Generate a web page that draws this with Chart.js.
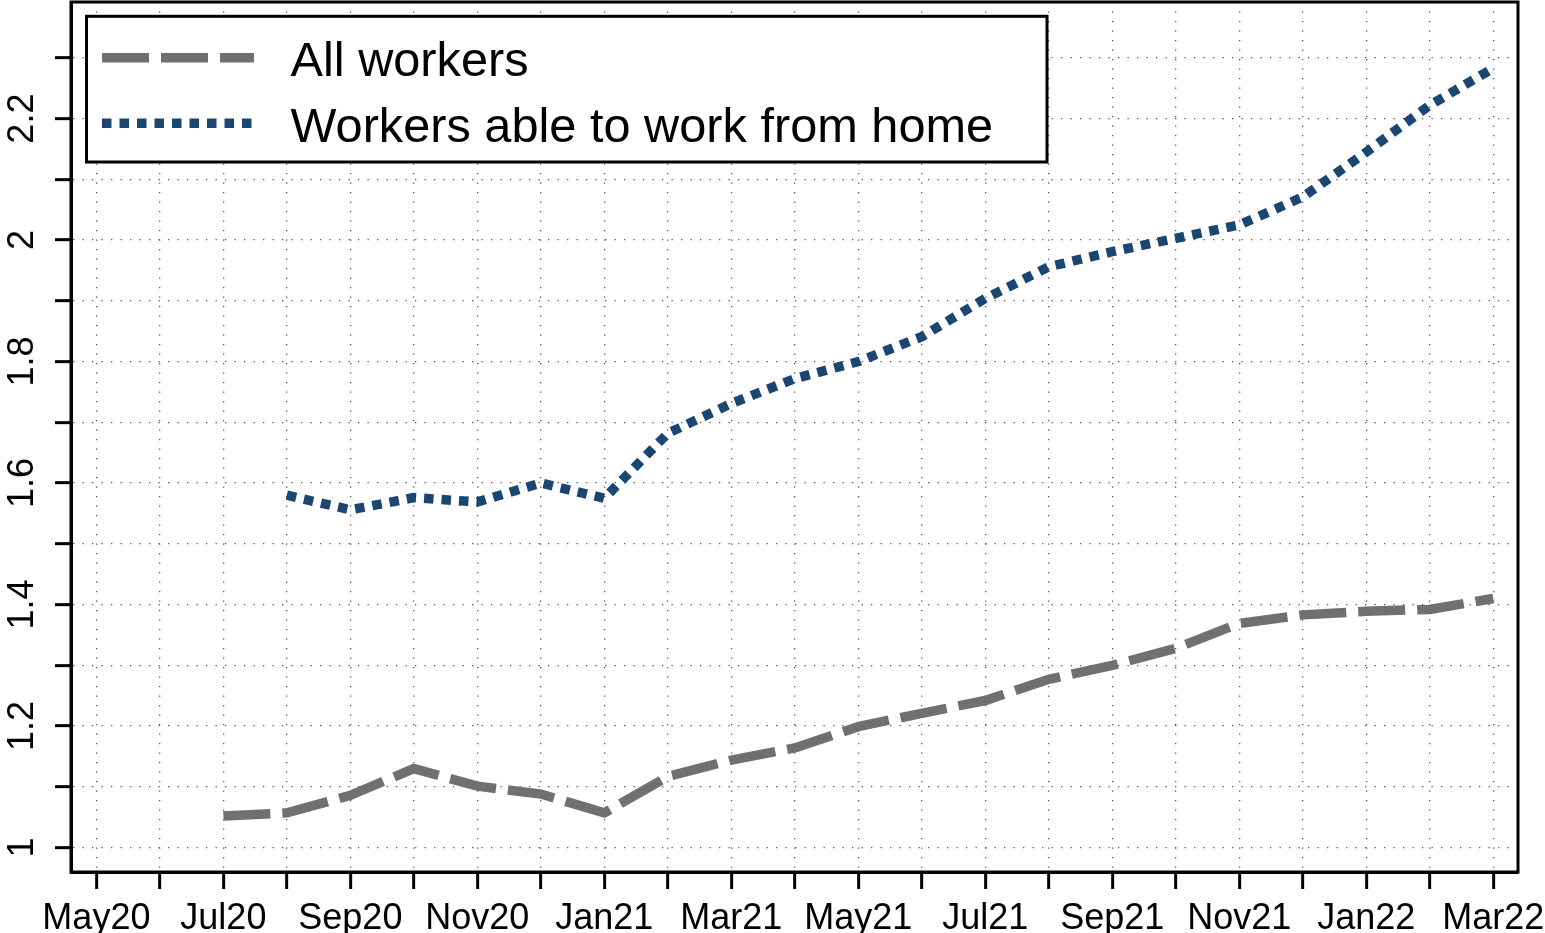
<!DOCTYPE html>
<html>
<head>
<meta charset="utf-8">
<title>All workers vs workers able to work from home</title>
<script src="https://cdn.jsdelivr.net/npm/chart.js@4.4.1/dist/chart.umd.min.js"></script>
<style>
  html, body { margin: 0; padding: 0; background: #fff; }
  #wrap { width: 1545px; height: 933px; position: relative; }
</style>
</head>
<body>
<div id="wrap"><canvas id="trendChart"></canvas></div>
<script>
// Months on the x axis (index 0 = May 2020)
const months = ['May20', 'Jun20', 'Jul20', 'Aug20', 'Sep20', 'Oct20', 'Nov20', 'Dec20',
    'Jan21', 'Feb21', 'Mar21', 'Apr21', 'May21', 'Jun21', 'Jul21', 'Aug21', 'Sep21',
    'Oct21', 'Nov21', 'Dec21', 'Jan22', 'Feb22', 'Mar22'];

// Series values (null = no observation yet)
const allWorkers = [null, null, 1.052, 1.057, 1.086, 1.130, 1.101, 1.088, 1.057, 1.117,
    1.144, 1.164, 1.199, 1.221, 1.242, 1.277, 1.300, 1.328, 1.369, 1.383, 1.389, 1.392, 1.410];
const wfhWorkers = [null, null, null, 1.580, 1.556, 1.576, 1.569, 1.600, 1.575, 1.682,
    1.731, 1.772, 1.800, 1.841, 1.904, 1.956, 1.981, 2.003, 2.025, 2.071, 2.145, 2.222, 2.283];

const seriesLabels = ['All workers', 'Workers able to work from home'];

// Y ticks every 0.1, labelled every 0.2
const yTicks = [1.0, 1.1, 1.2, 1.3, 1.4, 1.5, 1.6, 1.7, 1.8, 1.9, 2.0, 2.1, 2.2, 2.3];
const yTickLabels = ['1', '', '1.2', '', '1.4', '', '1.6', '', '1.8', '', '2', '', '2.2', ''];

document.addEventListener('DOMContentLoaded', () => {
    const colors = {
        gray: '#707070',
        navy: '#1a4771',
        grid: '#555555',
        ink: '#000000'
    };

    Chart.defaults.font.family = "'Liberation Sans', Arial, Helvetica, sans-serif";
    Chart.defaults.color = colors.ink;

    // box around the plot + legend drawn R-style inside the plot
    const frameAndLegend = {
        id: 'frameAndLegend',
        afterDraw(chart) {
            const { ctx, chartArea: a } = chart;
            ctx.save();
            ctx.strokeStyle = colors.ink;
            ctx.lineWidth = 3;
            ctx.strokeRect(a.left, a.top, a.right - a.left, a.bottom - a.top);

            const bx = a.left + 15.5, by = a.top + 14.3, bw = 960.5, bh = 145.7;
            ctx.fillStyle = '#fff';
            ctx.fillRect(bx, by, bw, bh);
            ctx.strokeRect(bx, by, bw, bh);

            ctx.font = "48.7px 'Liberation Sans', Arial, Helvetica, sans-serif";
            ctx.textBaseline = 'alphabetic';
            ctx.textAlign = 'left';
            chart.data.datasets.forEach((ds, i) => {
                const y = by + 41.5 + i * 65.5;
                ctx.beginPath();
                ctx.setLineDash(ds.borderDash);
                ctx.lineCap = 'butt';
                ctx.lineWidth = ds.borderWidth;
                ctx.strokeStyle = ds.borderColor;
                ctx.moveTo(bx + 15.5, y);
                ctx.lineTo(bx + 167.5, y);
                ctx.stroke();
                ctx.setLineDash([]);
                ctx.fillStyle = colors.ink;
                ctx.fillText(ds.label, bx + 204, y + 18.5);
            });
            ctx.restore();
        }
    };

    const gridStyle = (tickLength) => ({
        color: colors.grid,
        lineWidth: 1.3,
        tickLength: tickLength,
        tickColor: colors.ink,
        tickWidth: 3,
        tickBorderDash: []
    });
    const borderStyle = { display: true, color: colors.ink, width: 3, dash: [1.3, 8.2] };

    const ctx = document.getElementById('trendChart');
    new Chart(ctx, {
        type: 'line',
        data: {
            datasets: [{
                label: seriesLabels[0],
                data: months.map((m, i) => ({ x: i, y: allWorkers[i] })),
                borderColor: colors.gray,
                borderWidth: 9.5,
                borderDash: [47, 12],
                borderCapStyle: 'butt',
                pointRadius: 0,
                tension: 0,
                fill: false
            }, {
                label: seriesLabels[1],
                data: months.map((m, i) => ({ x: i, y: wfhWorkers[i] })),
                borderColor: colors.navy,
                borderWidth: 9.5,
                borderDash: [9.5, 8],
                borderCapStyle: 'butt',
                pointRadius: 0,
                tension: 0,
                fill: false
            }]
        },
        options: {
            responsive: true,
            maintainAspectRatio: false,
            animation: false,
            layout: { padding: { top: 2, right: 27, left: 0, bottom: 0 } },
            plugins: {
                legend: { display: false },
                tooltip: { enabled: false }
            },
            scales: {
                x: {
                    type: 'linear',
                    min: -0.4,
                    max: 22.39,
                    afterBuildTicks: (scale) => {
                        scale.ticks = months.map((m, i) => ({ value: i }));
                    },
                    afterFit: (scale) => {
                        scale.height = 61;
                        scale.paddingLeft = 0;
                        scale.paddingRight = 0;
                    },
                    ticks: {
                        autoSkip: false,
                        maxRotation: 0,
                        padding: 8,
                        color: colors.ink,
                        font: { size: 36 },
                        callback: (v) => (v % 2 === 0 ? months[v] : '')
                    },
                    grid: gridStyle(17),
                    border: borderStyle
                },
                y: {
                    type: 'linear',
                    min: 0.9597,
                    max: 2.392,
                    afterBuildTicks: (scale) => {
                        scale.ticks = yTicks.map(v => ({ value: v }));
                    },
                    afterFit: (scale) => {
                        scale.width = 71;
                        scale.paddingTop = 0;
                        scale.paddingBottom = 0;
                    },
                    ticks: {
                        autoSkip: false,
                        minRotation: 90,
                        maxRotation: 90,
                        crossAlign: 'center',
                        padding: 7,
                        color: colors.ink,
                        font: { size: 36 },
                        callback: (v, i) => yTickLabels[i]
                    },
                    grid: gridStyle(16),
                    border: borderStyle
                }
            }
        },
        plugins: [frameAndLegend]
    });
});
</script>
</body>
</html>
